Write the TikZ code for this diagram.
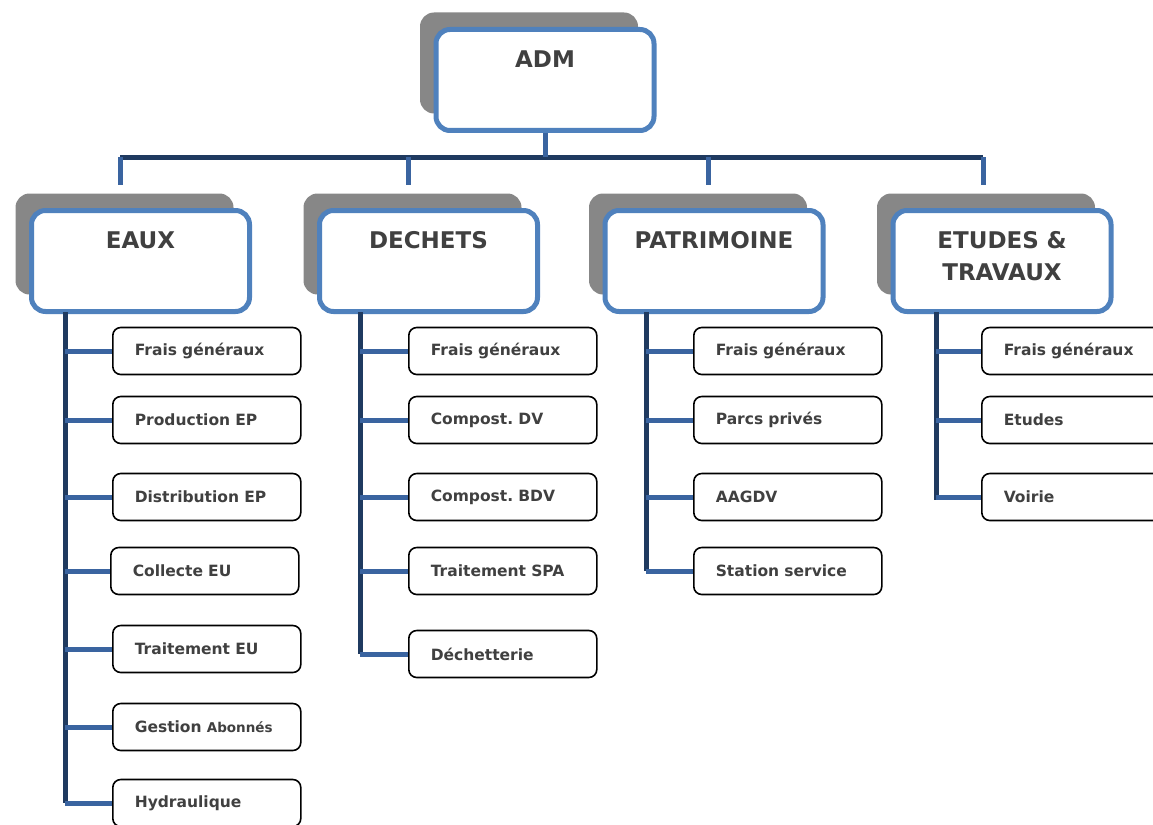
\documentclass[tikz,border=0pt]{standalone}
\usepackage{fontspec}
\setmainfont{DejaVu Sans}
\usepackage{tikz}
\usetikzlibrary{shadows}
\frenchspacing
\definecolor{bleu}{HTML}{4F81BD}
\definecolor{marine}{HTML}{1F3A60}
\definecolor{bleuligne}{HTML}{3A64A0}
\definecolor{ombre}{HTML}{878787}
\definecolor{texte}{HTML}{404040}
\tikzstyle{direction}=[rectangle, rounded corners=14pt, draw=bleu, line width=5pt, fill=white, text=texte, font=\bfseries\fontsize{23}{32}\selectfont, text width=190pt, align=center, inner xsep=14pt, inner ysep=21pt, text height=17pt, text depth=42pt, anchor=north, drop shadow={shadow xshift=-16pt, shadow yshift=17pt, fill=ombre, opacity=1}]
\tikzstyle{service}=[rectangle, rounded corners=8pt, draw=black, line width=1.6pt, fill=white, text=texte, font=\bfseries\fontsize{15.5}{18}\selectfont, text width=144pt, align=left, inner xsep=22pt, minimum height=47pt, anchor=west]
\tikzstyle{barre}=[draw=marine, line width=5pt]
\tikzstyle{branche}=[draw=bleuligne, line width=5pt]

\begin{document}
\begin{tikzpicture}[x=1pt, y=-1pt]
			\useasboundingbox (0,0) rectangle (1153,824);
			\node[direction] (adm) at (545,27) {ADM};
			\node[direction] (eaux) at (140.5,208) {EAUX};
			\node[direction] (dechets) at (428.5,208) {DECHETS};
			\node[direction] (patrimoine) at (714,208) {PATRIMOINE};
			\node[direction] (etudes) at (1002,208) {ETUDES \&\\TRAVAUX};
			\coordinate (b1) at (120,157);
			\coordinate (b2) at (408,157);
			\coordinate (b3) at (708,157);
			\coordinate (b4) at (983,157);
			\coordinate (d1) at (120,185);
			\coordinate (d2) at (408,185);
			\coordinate (d3) at (708,185);
			\coordinate (d4) at (983,185);
			\path[barre] (b1)--(b4);
			\path[branche] (adm.south)--(adm.south |- b1) (b1)--(d1) (b2)--(d2) (b3)--(d3) (b4)--(d4);
			\node[service] (e1) at (112,351) {Frais généraux};
			\node[service] (e2) at (112,420) {Production EP};
			\node[service] (e3) at (112,497) {Distribution EP};
			\node[service] (e4) at (110,571) {Collecte EU};
			\node[service] (e5) at (112,649) {Traitement EU};
			\node[service] (e6) at (112,727) {Gestion {\fontsize{13.5}{14}\selectfont Abonnés}};
			\node[service] (e7) at (112,803) {Hydraulique};
			\node[service] (c1) at (408,351) {Frais généraux};
			\node[service] (c2) at (408,420) {Compost. DV};
			\node[service] (c3) at (408,497) {Compost. BDV};
			\node[service] (c4) at (408,571) {Traitement SPA};
			\node[service] (c5) at (408,654) {Déchetterie};
			\node[service] (p1) at (693,351) {Frais généraux};
			\node[service] (p2) at (693,420) {Parcs privés};
			\node[service] (p3) at (693,497) {AAGDV};
			\node[service] (p4) at (693,571) {Station service};
			\node[service] (t1) at (981,351) {Frais généraux};
			\node[service] (t2) at (981,420) {Etudes};
			\node[service] (t3) at (981,497) {Voirie};
			\coordinate (sE) at (65,312);
			\coordinate (sC) at (360,312);
			\coordinate (sP) at (646,312);
			\coordinate (sT) at (936,312);
			\path[barre, shorten >=-2.5pt] (sE)--(sE |- e7.west) (sC)--(sC |- c5.west) (sP)--(sP |- p4.west) (sT)--(sT |- t3.west);
			\foreach \i in {1,...,7} \path[branche] (sE |- e\i.west)--(e\i.west);
			\foreach \i in {1,...,5} \path[branche] (sC |- c\i.west)--(c\i.west);
			\foreach \i in {1,...,4} \path[branche] (sP |- p\i.west)--(p\i.west);
			\foreach \i in {1,...,3} \path[branche] (sT |- t\i.west)--(t\i.west);
		\end{tikzpicture}
\end{document}
